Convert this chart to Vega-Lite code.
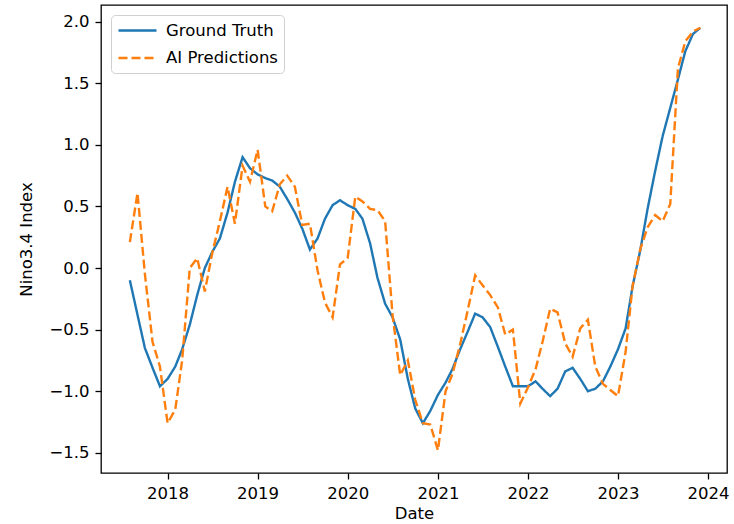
{
  "$schema": "https://vega.github.io/schema/vega-lite/v6.json",
  "width": 626,
  "height": 468,
  "autosize": {"type": "none"},
  "padding": {"left": 101, "top": 5, "right": 7, "bottom": 51},
  "background": "white",
  "config": {
    "view": {"stroke": "black", "strokeWidth": 1.3},
    "font": "DejaVu Sans",
    "legend": {
      "title": null,
      "orient": "none",
      "legendX": 10,
      "legendY": 10,
      "symbolType": "M-1,0H3.75",
      "symbolSize": 256,
      "symbolStrokeWidth": 2.4,
      "labelFontSize": 16.5,
      "labelColor": "black",
      "labelOffset": 30,
      "padding": 6,
      "rowPadding": 9.5,
      "strokeColor": "#d0d0d0",
      "fillColor": "white",
      "cornerRadius": 4
    }
  },
  "data": {
    "values": [
      {"date": "2017-08-01", "Ground Truth": -0.10, "AI Predictions": 0.21},
      {"date": "2017-09-01", "Ground Truth": -0.38, "AI Predictions": 0.61},
      {"date": "2017-10-01", "Ground Truth": -0.65, "AI Predictions": -0.05},
      {"date": "2017-11-01", "Ground Truth": -0.81, "AI Predictions": -0.60},
      {"date": "2017-12-01", "Ground Truth": -0.96, "AI Predictions": -0.80},
      {"date": "2018-01-01", "Ground Truth": -0.90, "AI Predictions": -1.26},
      {"date": "2018-02-01", "Ground Truth": -0.80, "AI Predictions": -1.15},
      {"date": "2018-03-01", "Ground Truth": -0.66, "AI Predictions": -0.75},
      {"date": "2018-04-01", "Ground Truth": -0.46, "AI Predictions": 0.00},
      {"date": "2018-05-01", "Ground Truth": -0.22, "AI Predictions": 0.08},
      {"date": "2018-06-01", "Ground Truth": 0.00, "AI Predictions": -0.19},
      {"date": "2018-07-01", "Ground Truth": 0.13, "AI Predictions": 0.12},
      {"date": "2018-08-01", "Ground Truth": 0.24, "AI Predictions": 0.38},
      {"date": "2018-09-01", "Ground Truth": 0.45, "AI Predictions": 0.66},
      {"date": "2018-10-01", "Ground Truth": 0.70, "AI Predictions": 0.36},
      {"date": "2018-11-01", "Ground Truth": 0.90, "AI Predictions": 0.83},
      {"date": "2018-12-01", "Ground Truth": 0.81, "AI Predictions": 0.70},
      {"date": "2019-01-01", "Ground Truth": 0.76, "AI Predictions": 0.96},
      {"date": "2019-02-01", "Ground Truth": 0.73, "AI Predictions": 0.50},
      {"date": "2019-03-01", "Ground Truth": 0.71, "AI Predictions": 0.46},
      {"date": "2019-04-01", "Ground Truth": 0.66, "AI Predictions": 0.68},
      {"date": "2019-05-01", "Ground Truth": 0.56, "AI Predictions": 0.75},
      {"date": "2019-06-01", "Ground Truth": 0.45, "AI Predictions": 0.66},
      {"date": "2019-07-01", "Ground Truth": 0.32, "AI Predictions": 0.35},
      {"date": "2019-08-01", "Ground Truth": 0.15, "AI Predictions": 0.36},
      {"date": "2019-09-01", "Ground Truth": 0.24, "AI Predictions": -0.02},
      {"date": "2019-10-01", "Ground Truth": 0.40, "AI Predictions": -0.28},
      {"date": "2019-11-01", "Ground Truth": 0.51, "AI Predictions": -0.40},
      {"date": "2019-12-01", "Ground Truth": 0.55, "AI Predictions": 0.03},
      {"date": "2020-01-01", "Ground Truth": 0.51, "AI Predictions": 0.08},
      {"date": "2020-02-01", "Ground Truth": 0.48, "AI Predictions": 0.58},
      {"date": "2020-03-01", "Ground Truth": 0.40, "AI Predictions": 0.54},
      {"date": "2020-04-01", "Ground Truth": 0.20, "AI Predictions": 0.48},
      {"date": "2020-05-01", "Ground Truth": -0.08, "AI Predictions": 0.47},
      {"date": "2020-06-01", "Ground Truth": -0.29, "AI Predictions": 0.38},
      {"date": "2020-07-01", "Ground Truth": -0.40, "AI Predictions": -0.38},
      {"date": "2020-08-01", "Ground Truth": -0.58, "AI Predictions": -0.87},
      {"date": "2020-09-01", "Ground Truth": -0.90, "AI Predictions": -0.75},
      {"date": "2020-10-01", "Ground Truth": -1.14, "AI Predictions": -1.07},
      {"date": "2020-11-01", "Ground Truth": -1.26, "AI Predictions": -1.26},
      {"date": "2020-12-01", "Ground Truth": -1.16, "AI Predictions": -1.27},
      {"date": "2021-01-01", "Ground Truth": -1.03, "AI Predictions": -1.48},
      {"date": "2021-02-01", "Ground Truth": -0.93, "AI Predictions": -1.00},
      {"date": "2021-03-01", "Ground Truth": -0.82, "AI Predictions": -0.86},
      {"date": "2021-04-01", "Ground Truth": -0.66, "AI Predictions": -0.62},
      {"date": "2021-05-01", "Ground Truth": -0.52, "AI Predictions": -0.35},
      {"date": "2021-06-01", "Ground Truth": -0.37, "AI Predictions": -0.06},
      {"date": "2021-07-01", "Ground Truth": -0.40, "AI Predictions": -0.14},
      {"date": "2021-08-01", "Ground Truth": -0.48, "AI Predictions": -0.22},
      {"date": "2021-09-01", "Ground Truth": -0.64, "AI Predictions": -0.32},
      {"date": "2021-10-01", "Ground Truth": -0.80, "AI Predictions": -0.54},
      {"date": "2021-11-01", "Ground Truth": -0.96, "AI Predictions": -0.50},
      {"date": "2021-12-01", "Ground Truth": -0.96, "AI Predictions": -1.10},
      {"date": "2022-01-01", "Ground Truth": -0.96, "AI Predictions": -0.97},
      {"date": "2022-02-01", "Ground Truth": -0.92, "AI Predictions": -0.82},
      {"date": "2022-03-01", "Ground Truth": -0.98, "AI Predictions": -0.60},
      {"date": "2022-04-01", "Ground Truth": -1.04, "AI Predictions": -0.33},
      {"date": "2022-05-01", "Ground Truth": -0.98, "AI Predictions": -0.36},
      {"date": "2022-06-01", "Ground Truth": -0.84, "AI Predictions": -0.61},
      {"date": "2022-07-01", "Ground Truth": -0.81, "AI Predictions": -0.72},
      {"date": "2022-08-01", "Ground Truth": -0.90, "AI Predictions": -0.49},
      {"date": "2022-09-01", "Ground Truth": -1.00, "AI Predictions": -0.42},
      {"date": "2022-10-01", "Ground Truth": -0.98, "AI Predictions": -0.80},
      {"date": "2022-11-01", "Ground Truth": -0.92, "AI Predictions": -0.94},
      {"date": "2022-12-01", "Ground Truth": -0.80, "AI Predictions": -0.99},
      {"date": "2023-01-01", "Ground Truth": -0.66, "AI Predictions": -1.04},
      {"date": "2023-02-01", "Ground Truth": -0.49, "AI Predictions": -0.68},
      {"date": "2023-03-01", "Ground Truth": -0.15, "AI Predictions": -0.15},
      {"date": "2023-04-01", "Ground Truth": 0.14, "AI Predictions": 0.15},
      {"date": "2023-05-01", "Ground Truth": 0.48, "AI Predictions": 0.33},
      {"date": "2023-06-01", "Ground Truth": 0.79, "AI Predictions": 0.43},
      {"date": "2023-07-01", "Ground Truth": 1.07, "AI Predictions": 0.38},
      {"date": "2023-08-01", "Ground Truth": 1.30, "AI Predictions": 0.52},
      {"date": "2023-09-01", "Ground Truth": 1.53, "AI Predictions": 1.62},
      {"date": "2023-10-01", "Ground Truth": 1.76, "AI Predictions": 1.84},
      {"date": "2023-11-01", "Ground Truth": 1.90, "AI Predictions": 1.92},
      {"date": "2023-12-01", "Ground Truth": 1.95, "AI Predictions": 1.95}
    ]
  },
  "transform": [
    {"fold": ["Ground Truth", "AI Predictions"], "as": ["series", "value"]}
  ],
  "mark": {"type": "line", "strokeWidth": 2.4},
  "encoding": {
    "x": {
      "field": "date",
      "type": "temporal",
      "title": "Date",
      "scale": {
        "type": "utc",
        "nice": false,
        "domain": [
          {"year": 2017, "month": 4, "date": 6, "utc": true},
          {"year": 2024, "month": 3, "date": 18, "utc": true}
        ]
      },
      "axis": {
        "values": [
          {"year": 2018, "utc": true},
          {"year": 2019, "utc": true},
          {"year": 2020, "utc": true},
          {"year": 2021, "utc": true},
          {"year": 2022, "utc": true},
          {"year": 2023, "utc": true},
          {"year": 2024, "utc": true}
        ],
        "format": "%Y",
        "grid": false,
        "domain": false,
        "tickColor": "black",
        "tickSize": 6,
        "tickWidth": 1.3,
        "labelFontSize": 16.5,
        "labelColor": "black",
        "labelPadding": 6,
        "labelFlush": false,
        "titleFontSize": 16.5,
        "titleFontWeight": "normal",
        "titleColor": "black",
        "titlePadding": 4
      }
    },
    "y": {
      "field": "value",
      "type": "quantitative",
      "title": "Nino3.4 Index",
      "scale": {"domain": [-1.664, 2.135], "nice": false, "zero": false},
      "axis": {
        "values": [-1.5, -1, -0.5, 0, 0.5, 1, 1.5, 2],
        "format": ".1f",
        "grid": false,
        "domain": false,
        "tickColor": "black",
        "tickSize": 6,
        "tickWidth": 1.3,
        "labelFontSize": 16.5,
        "labelColor": "black",
        "labelPadding": 6,
        "labelFlush": false,
        "titleFontSize": 16.5,
        "titleFontWeight": "normal",
        "titleColor": "black",
        "titleX": -67
      }
    },
    "color": {
      "field": "series",
      "type": "nominal",
      "scale": {"domain": ["Ground Truth", "AI Predictions"], "range": ["#1f77b4", "#ff7f0e"]},
      "legend": {"title": null}
    },
    "strokeDash": {
      "field": "series",
      "type": "nominal",
      "scale": {"domain": ["Ground Truth", "AI Predictions"], "range": [[1, 0], [9, 4]]},
      "legend": {"title": null}
    }
  }
}
